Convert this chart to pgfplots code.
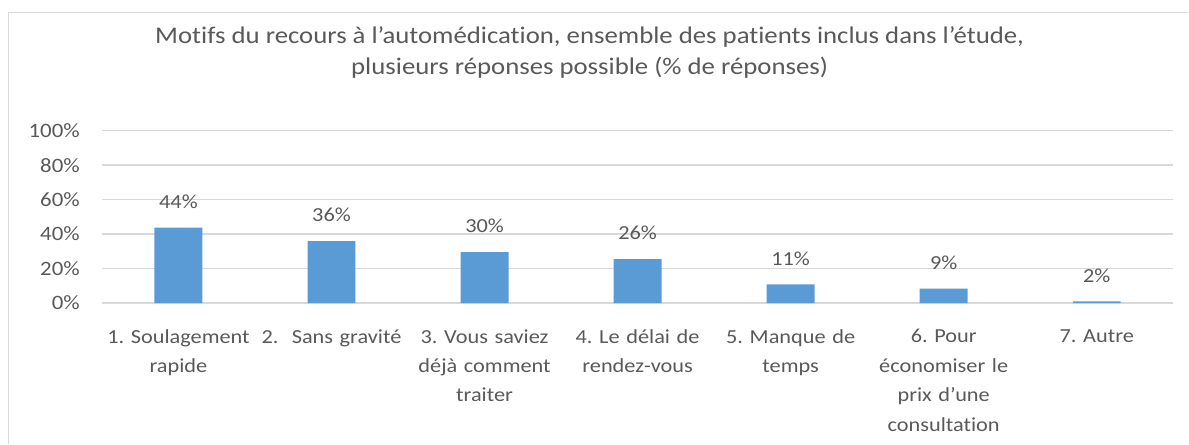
\documentclass[border=0pt]{standalone}
\usepackage{pgfplots}
\pgfplotsset{compat=1.18}
\usepackage{fontspec}
\setmainfont[FakeStretch=1.12, Ligatures={ResetAll,NoCommon}]{Carlito}
\definecolor{txt}{HTML}{595959}
\definecolor{grd}{HTML}{D9D9D9}
\definecolor{barc}{HTML}{5B9BD5}
\begin{document}
\frenchspacing
\begin{tikzpicture}
\path (0bp,0bp) rectangle (1189bp,444bp);
\draw[grd, line width=1.5bp] (8.5bp,0bp) -- (8.5bp,431.5bp) -- (1189bp,431.5bp);
\node[txt, font=\fontsize{24}{31}\selectfont, align=center] at (590bp,391.5bp) {Motifs du recours à l’automédication, ensemble des patients inclus dans l'étude,\\ plusieurs réponses possible (\% de réponses)};
\begin{axis}[
  at={(102bp,140.7bp)}, anchor=south west,
  scale only axis, width=1072bp, height=172.6bp,
  xmin=-0.5, xmax=6.5, ymin=0, ymax=100,
  ytick={0,20,40,60,80,100},
  yticklabels={0\%,20\%,40\%,60\%,80\%,100\%},
  yticklabel style={txt, font=\fontsize{20.5}{24}\selectfont, anchor=east, inner sep=0pt, xshift=-22bp},
  xtick={0,1,2,3,4,5,6},
  xticklabels={{1. Soulagement\\rapide},{2.\ \ Sans gravité},{3. Vous saviez\\déjà comment\\traiter},{4. Le délai de\\rendez-vous},{5. Manque de\\temps},{6. Pour\\économiser le\\prix d'une\\consultation},{7. Autre}},
  xticklabel style={txt, font=\fontsize{20}{29.5}\selectfont, align=center, text width=152bp, anchor=north, inner sep=0pt, yshift=-22bp},
  axis line style={draw=none},
  tick style={draw=none},
  ymajorgrids, grid style={grd, line width=1.3bp},
  ybar, bar width=48bp,
  clip=false,
  nodes near coords,
  point meta=explicit symbolic,
  every node near coord/.append style={txt, font=\fontsize{20}{24}\selectfont, anchor=south, inner sep=0pt, yshift=19bp},
]
\addplot[fill=barc, draw=none] coordinates {
  (0,43.8) [44\%]
  (1,36) [36\%]
  (2,29.5) [30\%]
  (3,25.5) [26\%]
  (4,10.8) [11\%]
  (5,8.4) [9\%]
  (6,1) [2\%]
};
\end{axis}
\end{tikzpicture}
\end{document}
